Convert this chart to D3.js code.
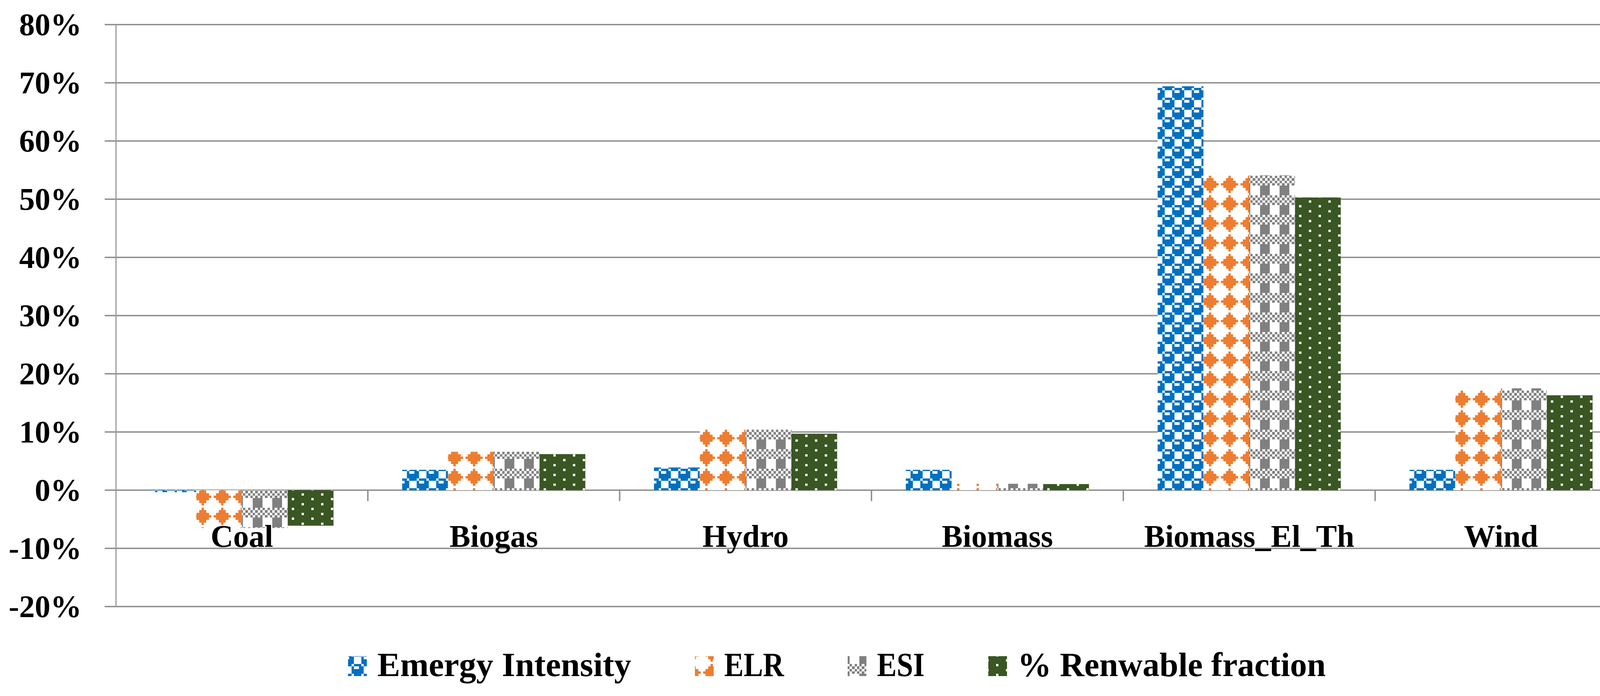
<!DOCTYPE html>
<html><head><meta charset="utf-8">
<script src="https://cdn.jsdelivr.net/npm/d3@7"></script>
<style>html,body{margin:0;padding:0;background:#fff;} svg{display:block}</style>
</head><body><svg id="chart" width="4207" height="1782"></svg>
<script>
// ---------- data ----------
const categories = ["Coal", "Biogas", "Hydro", "Biomass", "Biomass_El_Th", "Wind"];
const seriesNames = ["Emergy Intensity", "ELR", "ESI", "% Renwable fraction"];
const emergyIntensity = [-0.35, 3.5, 3.9, 3.5, 69.4, 3.5];
const elr = [-6.5, 6.6, 10.4, 1.1, 54.1, 17.5];
const esi = [-6.5, 6.6, 10.4, 1.1, 54.1, 17.5];
const renewableFraction = [-6.1, 6.2, 9.7, 1.05, 50.3, 16.3];
const yTickValues = [-20, -10, 0, 10, 20, 30, 40, 50, 60, 70, 80];
const yTickLabels = ["-20%", "-10%", "0%", "10%", "20%", "30%", "40%", "50%", "60%", "70%", "80%"];

const seriesValues = [emergyIntensity, elr, esi, renewableFraction];

// ---------- style ----------
const seriesColors = ["#0070C0", "#ED7D31", "#808080", "#3A5623"];
// 8x8 Office pattern bitmaps (rows as bytes)
const patternBits = [
  [0x77, 0x98, 0xF8, 0xF8, 0x77, 0x89, 0x8F, 0x8F], // sphere
  [0x10, 0x38, 0x7C, 0xFE, 0x7C, 0x38, 0x10, 0x00], // solid diamond
  [0xAA, 0x55, 0xAA, 0x55, 0xF0, 0xF0, 0xF0, 0xF0], // plaid
  [0x80, 0x00, 0x08, 0x00, 0x80, 0x00, 0x08, 0x00]  // dots (white on color)
];
const invert = [false, false, false, true];
const legendTextWidths = [650, 153, 122, 789];

const W = 4207, H = 1782;
const plotLeft = 297, plotRight = 4165, yTop = 63, yBottom = 1553;
const font = "'Liberation Serif', 'Times New Roman', serif";
const gridColor = "#8c8c8c";

const svg = d3.select("#chart");
svg.append("rect").attr("width", W).attr("height", H).attr("fill", "#fff");

// patterns
const defs = svg.append("defs");
const cell = 6.25;
patternBits.forEach((bits, i) => {
  const p = defs.append("pattern").attr("id", "pat" + i)
    .attr("patternUnits", "userSpaceOnUse")
    .attr("width", cell * 8).attr("height", cell * 8);
  const bg = invert[i] ? seriesColors[i] : "#fff";
  const fg = invert[i] ? "#fff" : seriesColors[i];
  p.append("rect").attr("width", cell * 8).attr("height", cell * 8).attr("fill", bg);
  bits.forEach((b, r) => {
    for (let c = 0; c < 8; c++) {
      if (b & (0x80 >> c)) {
        p.append("rect").attr("x", c * cell).attr("y", r * cell)
          .attr("width", cell + 0.05).attr("height", cell + 0.05)
          .attr("fill", fg).attr("shape-rendering", "crispEdges");
      }
    }
  });
});

// scales
const y = d3.scaleLinear().domain([-20, 80]).range([yBottom, yTop]);
const x0 = d3.scaleBand().domain(categories).range([plotLeft, plotRight]).paddingInner(0).paddingOuter(0);
const x1 = d3.scaleBand().domain(seriesNames).range([0, x0.bandwidth()]).paddingInner(0).paddingOuter(0.75);

// gridlines
svg.append("g").selectAll("line").data(yTickValues).join("line")
  .attr("x1", plotLeft - 29).attr("x2", plotRight)
  .attr("y1", d => y(d)).attr("y2", d => y(d))
  .attr("stroke", gridColor).attr("stroke-width", 3.5);

// y axis line
svg.append("line").attr("x1", plotLeft).attr("x2", plotLeft)
  .attr("y1", y(80)).attr("y2", y(-20))
  .attr("stroke", "#999").attr("stroke-width", 3);

// category tick marks below zero line
const boundaries = categories.slice(1).map(c => x0(c)).concat([plotRight]);
svg.append("g").selectAll("line").data(boundaries).join("line")
  .attr("x1", d => d).attr("x2", d => d)
  .attr("y1", y(0)).attr("y2", y(0) + 28)
  .attr("stroke", gridColor).attr("stroke-width", 3.5);

// bars
const groups = svg.append("g").selectAll("g").data(categories).join("g")
  .attr("transform", d => `translate(${x0(d)},0)`);
groups.selectAll("rect")
  .data((c, ci) => seriesNames.map((s, si) => ({ s, si, v: seriesValues[si][ci] })))
  .join("rect")
  .attr("x", d => x1(d.s))
  .attr("width", x1.bandwidth())
  .attr("y", d => y(Math.max(0, d.v)))
  .attr("height", d => Math.abs(y(d.v) - y(0)))
  .attr("fill", d => `url(#pat${d.si})`);

// y labels
svg.append("g").selectAll("text").data(yTickValues).join("text")
  .attr("x", 209).attr("y", d => y(d))
  .attr("text-anchor", "end").attr("dominant-baseline", "central")
  .attr("font-family", font).attr("font-weight", "bold").attr("font-size", 80)
  .attr("fill", "#000")
  .text((d, i) => yTickLabels[i]);

// category labels
svg.append("g").selectAll("text").data(categories).join("text")
  .attr("x", d => x0(d) + x0.bandwidth() / 2).attr("y", 1400)
  .attr("text-anchor", "middle")
  .attr("font-family", font).attr("font-weight", "bold").attr("font-size", 80)
  .attr("fill", "#000")
  .text(d => d);

// legend
const legend = svg.append("g");
let lx = 891;
const swW = 48, swTop = 1680, swH = 51, baseY = 1731;
seriesNames.forEach((name, i) => {
  legend.append("rect").attr("x", lx).attr("y", swTop).attr("width", swW).attr("height", swH)
    .attr("fill", `url(#pat${i})`);
  legend.append("text").attr("x", lx + swW + 27).attr("y", baseY)
    .attr("font-family", font).attr("font-weight", "bold").attr("font-size", 86)
    .attr("textLength", legendTextWidths[i]).attr("lengthAdjust", "spacingAndGlyphs")
    .attr("fill", "#000").text(name);
  lx = lx + swW + 27 + legendTextWidths[i] + 163;
});
</script>
</body></html>
